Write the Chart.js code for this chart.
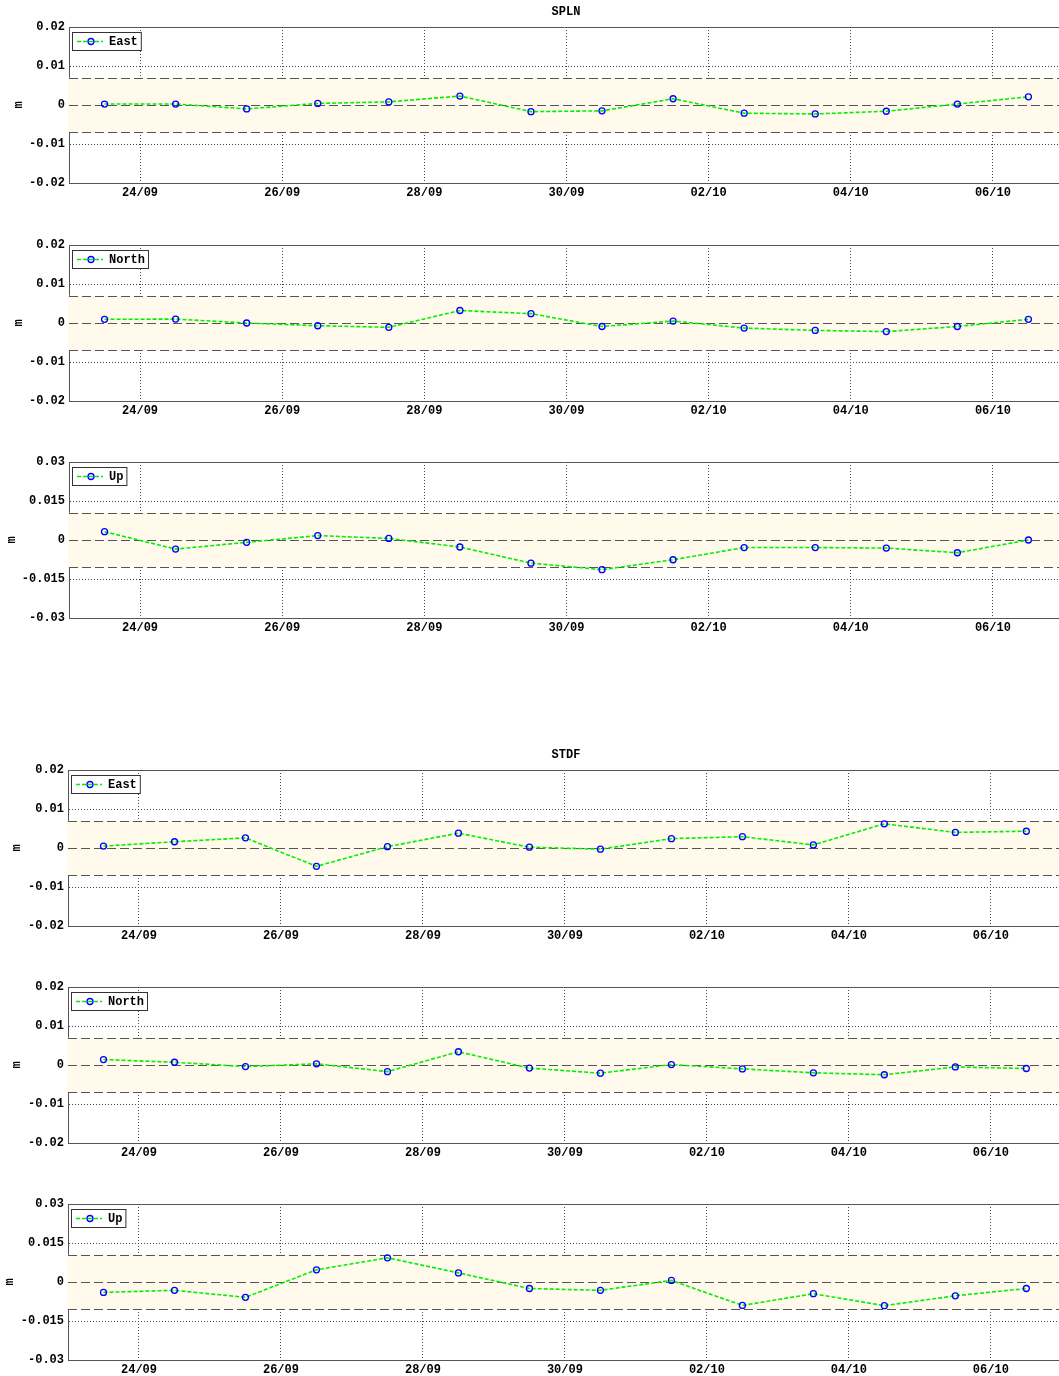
<!DOCTYPE html>
<html>
<head>
<meta charset="utf-8">
<script src="https://cdn.jsdelivr.net/npm/chart.js@4"></script>
<style>
  body { margin: 0; background: #fff; overflow: hidden; width: 1059px; height: 1376px; position: relative; }
  .panel { position: absolute; left: 0; width: 1064px; height: 206px; }
</style>
</head>
<body>
<div class="panel" style="top:2px"><canvas id="c0" width="1064" height="206"></canvas></div>
<div class="panel" style="top:220px"><canvas id="c1" width="1064" height="206"></canvas></div>
<div class="panel" style="top:437px"><canvas id="c2" width="1064" height="206"></canvas></div>
<div class="panel" style="top:745px"><canvas id="c3" width="1064" height="206"></canvas></div>
<div class="panel" style="top:962px"><canvas id="c4" width="1064" height="206"></canvas></div>
<div class="panel" style="top:1179px"><canvas id="c5" width="1064" height="206"></canvas></div>
<script>
// Days counted from 23/09 00:00
const pointDays = [0.5, 1.5, 2.5, 3.5, 4.5, 5.5, 6.5, 7.5, 8.5, 9.5, 10.5, 11.5, 12.5, 13.5];
const xTickDays = [1, 3, 5, 7, 9, 11, 13];
const xTickLabels = ['24/09', '26/09', '28/09', '30/09', '02/10', '04/10', '06/10'];

const yTicksEN = [-0.02, -0.01, 0, 0.01, 0.02];
const yTicksUp = [-0.03, -0.015, 0, 0.015, 0.03];

// SPLN
const splnEast  = [0.00025, 0.00025, -0.001, 0.0004, 0.0008, 0.0023, -0.0017, -0.0015, 0.0016, -0.0021, -0.0023, -0.0016, 0.00025, 0.0021];
const splnNorth = [0.00095, 0.001, 0, -0.0007, -0.0011, 0.0032, 0.0024, -0.0009, 0.0005, -0.0013, -0.0019, -0.0022, -0.0009, 0.00095];
const splnUp    = [0.0032, -0.0035, -0.0009, 0.0017, 0.0006, -0.0027, -0.0089, -0.0114, -0.0076, -0.0029, -0.0029, -0.0031, -0.0049, 0];
// STDF
const stdfEast  = [0.0005, 0.0016, 0.0026, -0.0047, 0.00035, 0.0038, 0.0002, -0.0003, 0.0024, 0.0029, 0.0008, 0.0062, 0.004, 0.0043];
const stdfNorth = [0.0014, 0.0007, -0.0004, 0.0003, -0.0017, 0.0034, -0.0008, -0.0021, 0.0001, -0.001, -0.002, -0.0025, -0.0005, -0.0009];
const stdfUp    = [-0.004, -0.0032, -0.0059, 0.0047, 0.0093, 0.0035, -0.0025, -0.0032, 0.0006, -0.009, -0.0045, -0.0091, -0.0053, -0.0025];

const bandEN = 0.007;
const bandUp = 0.0105;

const FONT = '"Liberation Mono", "DejaVu Sans Mono", monospace';

// band, dashed limits, top border, title, "m" label, legend box
const decor = {
  id: 'decor',
  beforeDatasetsDraw(chart, args, o) {
    const { ctx, chartArea: a, scales: { y } } = chart;
    const yt = y.getPixelForValue(o.band), yb = y.getPixelForValue(-o.band);
    ctx.save();
    ctx.fillStyle = '#fffaec';
    ctx.fillRect(a.left - 1, yt, a.right - a.left + 1, yb - yt);
    ctx.strokeStyle = '#555';
    ctx.lineWidth = 1.2;
    ctx.setLineDash([9, 4]);
    [o.band, 0, -o.band].forEach(v => {
      const py = Math.round(y.getPixelForValue(v)) + 0.5;
      ctx.beginPath();
      ctx.moveTo(a.left, py);
      ctx.lineTo(a.right, py);
      ctx.stroke();
    });
    ctx.restore();
  },
  afterDraw(chart, args, o) {
    const { ctx, chartArea: a, scales: { y } } = chart;
    ctx.save();
    // top border
    ctx.strokeStyle = '#555';
    ctx.lineWidth = 1;
    ctx.beginPath();
    ctx.moveTo(a.left, Math.round(a.top) + 0.5);
    ctx.lineTo(a.right, Math.round(a.top) + 0.5);
    ctx.stroke();

    ctx.fillStyle = '#000';
    ctx.font = 'bold 12px ' + FONT;
    if (o.title) {
      ctx.textAlign = 'center';
      ctx.textBaseline = 'middle';
      ctx.fillText(o.title, 566, a.top - 15);
    }
    // y label
    ctx.save();
    ctx.translate(a.left - o.mOff, y.getPixelForValue(0));
    ctx.rotate(-Math.PI / 2);
    ctx.textAlign = 'center';
    ctx.textBaseline = 'middle';
    ctx.fillText('m', 0, 0);
    ctx.restore();

    // legend
    const bx = a.left + 3, by = a.top + 5;
    const tw = ctx.measureText(o.label).width;
    const bw = 36 + tw + 4, bh = 18;
    ctx.fillStyle = '#fff';
    ctx.fillRect(bx + 0.5, by + 0.5, bw, bh);
    ctx.strokeStyle = '#333';
    ctx.strokeRect(bx + 0.5, by + 0.5, bw, bh);
    const ly = by + 9.5;
    ctx.strokeStyle = '#00f000';
    ctx.lineWidth = 1.5;
    ctx.setLineDash([4, 2]);
    ctx.beginPath();
    ctx.moveTo(bx + 5, ly);
    ctx.lineTo(bx + 31, ly);
    ctx.stroke();
    ctx.setLineDash([]);
    ctx.strokeStyle = '#0000ff';
    ctx.lineWidth = 1.3;
    ctx.beginPath();
    ctx.arc(bx + 19, ly, 3, 0, Math.PI * 2);
    ctx.stroke();
    ctx.fillStyle = '#000';
    ctx.textAlign = 'left';
    ctx.textBaseline = 'middle';
    ctx.fillText(o.label, bx + 37, ly);
    ctx.restore();
  }
};

function makeChart(id, values, label, yTicks, band, title, left, xMax, mOff) {
  const lim = yTicks[yTicks.length - 1];
  new Chart(document.getElementById(id), {
    type: 'line',
    data: {
      datasets: [{
        label: label,
        data: pointDays.map((d, i) => ({ x: d, y: values[i] })),
        borderColor: '#00f000',
        borderWidth: 1.6,
        borderDash: [4, 2],
        tension: 0,
        pointRadius: 3,
        pointHoverRadius: 3,
        pointBorderColor: '#0000ff',
        pointBackgroundColor: 'rgba(0,0,0,0)',
        pointBorderWidth: 1.3
      }]
    },
    options: {
      responsive: false,
      animation: false,
      layout: { padding: { top: 25, left: 0, right: 0, bottom: 0 } },
      plugins: {
        legend: { display: false },
        tooltip: { enabled: false },
        decor: { band: band, label: label, title: title, mOff: mOff }
      },
      scales: {
        x: {
          type: 'linear',
          min: 0,
          max: xMax,
          afterBuildTicks: s => { s.ticks = xTickDays.map(v => ({ value: v })); },
          afterFit: s => { s.height = 25; },
          ticks: {
            autoSkip: false,
            maxRotation: 0,
            padding: 3,
            color: '#000',
            font: { family: FONT, size: 12, weight: 'bold' },
            callback: v => xTickLabels[xTickDays.indexOf(v)]
          },
          grid: { color: '#444', lineWidth: 1, drawTicks: false },
          border: { display: true, color: '#555', width: 1, dash: [1, 2] }
        },
        y: {
          min: -lim,
          max: lim,
          afterBuildTicks: s => { s.ticks = yTicks.map(v => ({ value: v })); },
          afterFit: s => { s.width = left; },
          ticks: {
            padding: 4,
            color: '#000',
            font: { family: FONT, size: 12, weight: 'bold' },
            callback: v => (v === 0 ? '0' : String(v))
          },
          grid: { color: '#444', lineWidth: 1, drawTicks: false },
          border: { display: true, color: '#555', width: 1, dash: [1, 2] }
        }
      }
    },
    plugins: [decor]
  });
}

makeChart('c0', splnEast,  'East',  yTicksEN, bandEN, 'SPLN', 69, 13.94, 50);
makeChart('c1', splnNorth, 'North', yTicksEN, bandEN, null,   69, 13.94, 50);
makeChart('c2', splnUp,    'Up',    yTicksUp, bandUp, null,   69, 13.94, 57);
makeChart('c3', stdfEast,  'East',  yTicksEN, bandEN, 'STDF', 68, 13.97, 51);
makeChart('c4', stdfNorth, 'North', yTicksEN, bandEN, null,   68, 13.97, 51);
makeChart('c5', stdfUp,    'Up',    yTicksUp, bandUp, null,   68, 13.97, 58);
</script>
</body>
</html>
